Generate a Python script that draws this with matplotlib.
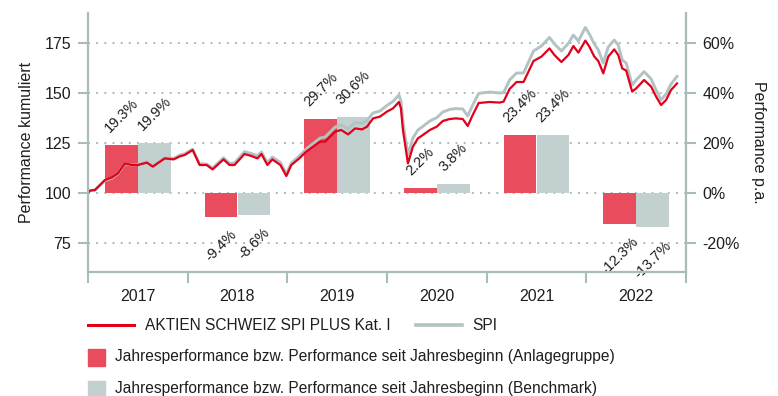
import matplotlib
matplotlib.use("Agg")
import matplotlib.pyplot as plt
import numpy as np
from matplotlib.lines import Line2D
from matplotlib.patches import Rectangle

plt.rcParams["font.family"] = ["Liberation Sans", "DejaVu Sans"]

# cumulative performance (indexed to 100), time in decimal years
t = [2017.00, 2017.02, 2017.07, 2017.17, 2017.24, 2017.30, 2017.37, 2017.44, 2017.50, 2017.59,
     2017.65, 2017.77, 2017.86, 2017.92, 2017.97, 2018.05, 2018.12, 2018.19, 2018.25, 2018.36,
     2018.42, 2018.47, 2018.57, 2018.64, 2018.70, 2018.74, 2018.80, 2018.85, 2018.93, 2018.99,
     2019.04, 2019.12, 2019.19, 2019.26, 2019.33, 2019.38, 2019.43, 2019.48, 2019.54, 2019.61,
     2019.68, 2019.75, 2019.80, 2019.86, 2019.93, 2020.00, 2020.06, 2020.12, 2020.14, 2020.16,
     2020.21, 2020.26, 2020.31, 2020.36, 2020.43, 2020.50, 2020.56, 2020.63, 2020.69, 2020.76,
     2020.81, 2020.86, 2020.92, 2021.03, 2021.13, 2021.17, 2021.23, 2021.30, 2021.37, 2021.47,
     2021.55, 2021.63, 2021.68, 2021.75, 2021.82, 2021.87, 2021.92, 2021.99, 2022.03, 2022.08,
     2022.12, 2022.17, 2022.22, 2022.28, 2022.32, 2022.36, 2022.40, 2022.46, 2022.50, 2022.58,
     2022.65, 2022.70, 2022.75, 2022.80, 2022.85, 2022.91]
fund = [100.0, 101.2, 101.5, 106.5, 107.8, 109.8, 114.8, 114.0, 114.0, 115.2,
        113.2, 117.3, 116.8, 118.3, 119.0, 121.5, 114.0, 114.0, 111.8, 116.8,
        114.0, 114.0, 119.5, 118.5, 117.3, 119.5, 114.0, 116.8, 114.0, 108.5,
        114.0, 117.3, 120.7, 123.2, 125.7, 125.7, 128.2, 130.7, 131.5, 129.3,
        132.3, 131.8, 133.2, 137.3, 138.2, 140.7, 142.3, 145.5, 142.3, 131.5,
        114.8, 123.2, 127.3, 129.0, 131.5, 133.2, 136.0, 137.0, 137.3, 137.0,
        133.5, 139.0, 145.0, 145.5, 145.2, 145.7, 152.0, 155.5, 155.5, 166.0,
        168.2, 172.3, 169.0, 165.5, 169.0, 173.5, 170.2, 176.2, 173.2, 168.2,
        166.0, 159.8, 168.2, 171.8, 169.0, 162.3, 161.2, 150.7, 152.3, 156.5,
        153.2, 148.2, 144.0, 146.5, 151.5, 154.8]
spi = [100.0, 101.2, 101.5, 106.2, 107.4, 109.6, 114.6, 114.0, 114.2, 115.5,
       113.5, 117.7, 117.3, 118.9, 119.6, 121.9, 114.5, 114.5, 112.5, 117.6,
       114.8, 115.0, 120.7, 119.7, 118.6, 120.5, 115.2, 118.0, 115.3, 109.6,
       115.0, 118.5, 122.0, 124.8, 127.5, 128.0, 130.5, 133.0, 134.0, 132.0,
       135.2, 134.8, 136.3, 140.0, 141.0, 143.8, 145.8, 149.0, 146.0, 135.5,
       119.0, 127.5, 131.5, 133.3, 136.0, 137.7, 140.5, 141.8, 142.2, 142.0,
       138.5, 144.0, 149.8, 150.5, 150.0, 150.2, 156.5, 160.0, 160.0, 171.0,
       173.5, 177.8, 174.5, 171.0, 174.8, 179.0, 176.0, 182.8, 179.5, 174.5,
       171.5, 165.0, 173.0, 176.5, 174.0, 166.5, 165.0, 154.0, 156.5, 160.7,
       157.0, 151.5, 146.5, 149.5, 154.5, 158.3]

# calendar-year performance in %
years = [2017, 2018, 2019, 2020, 2021, 2022]
perf_fund = [19.3, -9.4, 29.7, 2.2, 23.4, -12.3]
perf_bench = [19.9, -8.6, 30.6, 3.8, 23.4, -13.7]

RED = "#e2001a"
GREY = "#b3c3c3"
BAR_RED = "#e94c5c"
BAR_GREY = "#c3d0d0"
AXIS = "#a9bcbc"
TXT = "#1e1e1e"
FS = 11.5
FS_LEG = 11.2

fig = plt.figure(figsize=(7.78, 3.96), dpi=100)
W, H = 778, 396
ax = fig.add_axes([88 / W, 1 - 272 / H, (686 - 88) / W, (272 - 13) / H])
ax2 = ax.twinx()
ax.set_zorder(ax2.get_zorder() + 1)
ax.patch.set_visible(False)

# bars (percent, right axis)
xc = np.array(years) + 0.5
bw = 0.33
ax2.bar(xc - bw / 2, perf_fund, width=bw, color=BAR_RED, zorder=2)
ax2.bar(xc + bw / 2, perf_bench, width=bw, color=BAR_GREY, zorder=2)
for xs, vals in ((xc - bw / 2, perf_fund), (xc + bw / 2, perf_bench)):
    for x, v in zip(xs, vals):
        ax2.annotate(f"{v:.1f}%", xy=(x, v), xytext=(0, 7 if v > 0 else -8),
                     textcoords="offset points", rotation=45, ha="center",
                     va="bottom" if v > 0 else "top", fontsize=10.5, color=TXT)

# cumulative lines (left axis)
ax.plot(t, spi, color=GREY, lw=2.1, solid_joinstyle="round")
ax.plot(t, fund, color=RED, lw=1.6, solid_joinstyle="round")

ax.set_xlim(2017, 2023)
ax.set_ylim(60.5, 190)
ax2.set_ylim((60.5 - 100) * 0.8, (190 - 100) * 0.8)

ax.set_yticks([75, 100, 125, 150, 175])
ax2.set_yticks([-20, 0, 20, 40, 60])
ax2.set_yticklabels([f"{v}%" for v in [-20, 0, 20, 40, 60]])
ax2.yaxis.grid(True, color=AXIS, lw=1.4, linestyle=(0, (1, 3.2)))
ax2.set_axisbelow(True)

ax.set_xticks(range(2017, 2024))
ax.set_xticklabels([])
ax.set_xticks(xc, minor=True)
ax.set_xticklabels([str(y) for y in years], minor=True)
ax.tick_params(axis="x", which="major", length=8, width=1.5, color=AXIS, direction="out")
ax.tick_params(axis="x", which="minor", length=0, pad=12, labelsize=FS, labelcolor=TXT)
ax.tick_params(axis="y", length=7, width=1.5, color=AXIS, pad=5, labelsize=FS, labelcolor=TXT)
ax2.tick_params(axis="y", length=7, width=1.5, color=AXIS, pad=5, labelsize=FS, labelcolor=TXT)

for s in ("top", "right"):
    ax.spines[s].set_visible(False)
for s in ("top", "left", "bottom"):
    ax2.spines[s].set_visible(False)
for sp in (ax.spines["left"], ax.spines["bottom"], ax2.spines["right"]):
    sp.set_color(AXIS)
    sp.set_linewidth(1.6)

ax.set_ylabel("Performance kumuliert", fontsize=FS, color=TXT, labelpad=8)
ax2.set_ylabel("Performance p.a.", fontsize=FS, color=TXT, rotation=270, labelpad=19)

# legend
def fx(px):
    return px / W


def fy(py):
    return 1 - py / H


fig.add_artist(Line2D([fx(88), fx(134)], [fy(325), fy(325)], color=RED, lw=2.2))
fig.text(fx(145), fy(325), "AKTIEN SCHWEIZ SPI PLUS Kat. I", va="center", fontsize=FS_LEG, color=TXT)
fig.add_artist(Line2D([fx(416), fx(462)], [fy(325), fy(325)], color=GREY, lw=2.6))
fig.text(fx(472), fy(325), "SPI", va="center", fontsize=FS_LEG, color=TXT)
fig.add_artist(Rectangle((fx(88), fy(366)), fx(17), 17 / H, color=BAR_RED))
fig.text(fx(115), fy(357), "Jahresperformance bzw. Performance seit Jahresbeginn (Anlagegruppe)",
         va="center", fontsize=FS_LEG, color=TXT)
fig.add_artist(Rectangle((fx(88), fy(398)), fx(17), 17 / H, color=BAR_GREY))
fig.text(fx(115), fy(389), "Jahresperformance bzw. Performance seit Jahresbeginn (Benchmark)",
         va="center", fontsize=FS_LEG, color=TXT)

fig.savefig("out.png", dpi=100)
